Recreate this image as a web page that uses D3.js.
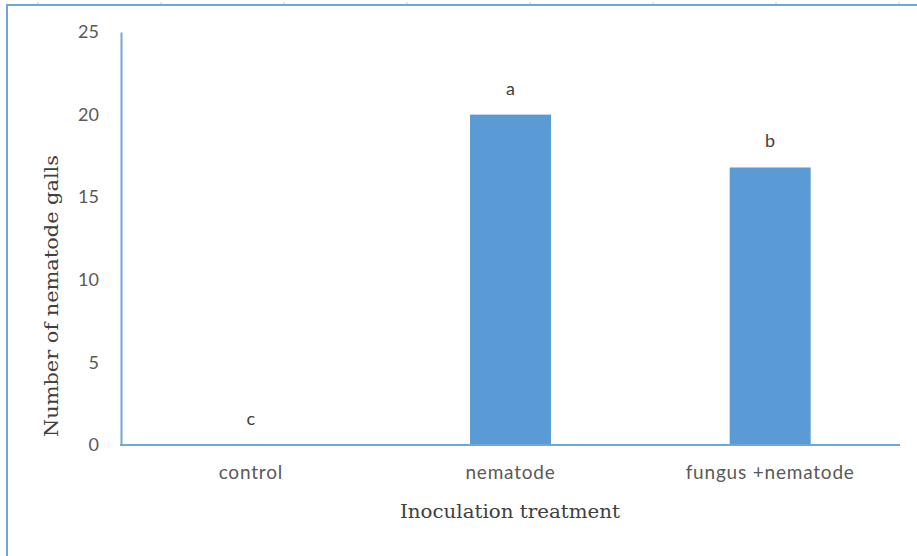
<!DOCTYPE html>
<html><head><meta charset="utf-8">
<script src="https://cdn.jsdelivr.net/npm/d3@7/dist/d3.min.js"></script>
<style>body{margin:0;background:#fff}svg{display:block}</style>
</head><body>
<svg id="c" width="917" height="556"></svg>
<script>
const categories = ["control", "nematode", "fungus +nematode"];
const values = [0, 20, 16.8];
const letters = ["c", "a", "b"];
const yTicks = [0, 5, 10, 15, 20, 25];
const xTitle = "Inoculation treatment";
const yTitle = "Number of nematode galls";

const svg = d3.select("#c");
const mLeft = 121, mRight = 900, mTop = 32, mBottom = 445;

// frame
const rulerTicks = d3.range(38, 917, 123);
svg.selectAll(".rt").data(rulerTicks).join("line")
  .attr("x1", d => d).attr("x2", d => d).attr("y1", 2).attr("y2", 4)
  .attr("stroke", "#c8c8c8").attr("stroke-width", 1);
svg.append("line").attr("x1", 7).attr("x2", 917).attr("y1", 5).attr("y2", 5)
  .attr("stroke", "#6fa6dc").attr("stroke-width", 2);
svg.append("line").attr("x1", 7).attr("x2", 7).attr("y1", 4).attr("y2", 556)
  .attr("stroke", "#6fa6dc").attr("stroke-width", 2);

const x = d3.scaleBand().domain(categories).range([mLeft, mRight])
  .paddingInner(0.688).paddingOuter(0.344);
const y = d3.scaleLinear().domain([0, 25]).range([mBottom, mTop]);

// bars
svg.selectAll(".bar").data(categories).join("rect")
  .attr("x", d => x(d)).attr("width", x.bandwidth())
  .attr("y", (d, i) => y(values[i])).attr("height", (d, i) => y(0) - y(values[i]))
  .attr("fill", "#5b9bd5");

// letters
svg.selectAll(".lt").data(categories).join("text")
  .attr("x", d => x(d) + x.bandwidth() / 2)
  .attr("y", (d, i) => y(values[i]) - 20)
  .attr("text-anchor", "middle")
  .attr("font-family", "Lato, 'Liberation Sans', sans-serif").attr("font-size", 18)
  .attr("fill", "#404040")
  .text((d, i) => letters[i]);

// y axis
const yAxis = svg.append("g").attr("transform", `translate(${mLeft},0)`)
  .call(d3.axisLeft(y).tickValues(yTicks).tickSize(0).tickPadding(22));
yAxis.select(".domain").attr("stroke", "#6fa6dc").attr("stroke-width", 2);
yAxis.selectAll("text").attr("font-family", "Lato, 'Liberation Sans', sans-serif")
  .attr("font-size", 18).attr("fill", "#595959");

// x axis
const xAxis = svg.append("g").attr("transform", `translate(0,${mBottom})`)
  .call(d3.axisBottom(x).tickSize(0).tickPadding(21));
xAxis.select(".domain").attr("d", `M${mLeft-1},0H${mRight}`).attr("stroke", "#6fa6dc").attr("stroke-width", 2);
xAxis.selectAll("text").attr("font-family", "Lato, 'Liberation Sans', sans-serif")
  .attr("font-size", 19).attr("letter-spacing", 0.8).attr("fill", "#595959");

// titles
svg.append("text").attr("x", 510).attr("y", 518).attr("text-anchor", "middle")
  .attr("font-family", "'DejaVu Serif', serif").attr("font-size", 18).attr("fill", "#404040")
  .attr("textLength", 220).attr("lengthAdjust", "spacingAndGlyphs")
  .text(xTitle);
svg.append("text").attr("transform", "translate(58,296) rotate(-90)").attr("text-anchor", "middle")
  .attr("font-family", "'DejaVu Serif', serif").attr("font-size", 18).attr("fill", "#404040")
  .attr("textLength", 282).attr("lengthAdjust", "spacingAndGlyphs")
  .text(yTitle);
</script>
</body></html>
